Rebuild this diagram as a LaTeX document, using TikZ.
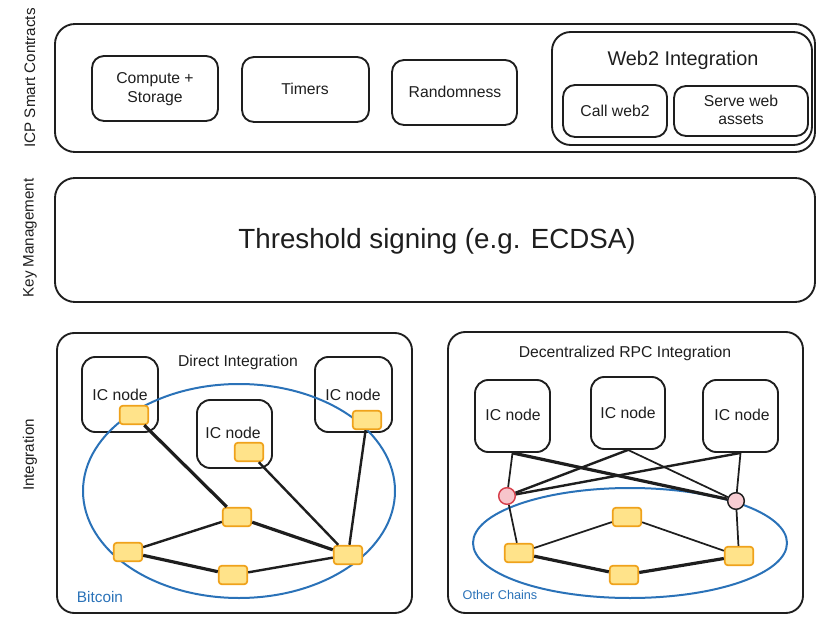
\documentclass[tikz,border=0pt]{standalone}
\usepackage{fontspec}
\setmainfont{Liberation Sans}
\usetikzlibrary{fit}
\definecolor{ink}{HTML}{1E1E1E}
\definecolor{chainblue}{HTML}{2A72B8}
\definecolor{yfill}{HTML}{FFE38A}
\definecolor{yedge}{HTML}{EFA21B}
\definecolor{pinkfill}{HTML}{F7C5CB}
\definecolor{pinkfilltwo}{HTML}{F8CDD3}
\definecolor{rededge}{HTML}{D6404C}
\begin{document}
\begin{tikzpicture}[x=0.75pt,y=-0.75pt,
  bigbox/.style={draw=ink, line width=1.4pt, rounded corners=15pt, inner sep=0pt},
  card/.style={draw=ink, line width=1.4pt, rounded corners=9pt, inner sep=0pt},
  cardtxt/.style={align=center, font=\fontsize{11.8}{13.8}\selectfont, text=ink},
  ysq/.style={draw=yedge, fill=yfill, line width=1.3pt, rounded corners=2.5pt,
    minimum width=21.5pt, minimum height=14pt, inner sep=0pt},
  pin/.style={circle, line width=1.1pt, minimum size=12.5pt, inner sep=0pt},
  lbl/.style={font=\fontsize{11.8}{14}\selectfont, text=ink},
  side/.style={rotate=90, font=\fontsize{11.4}{13}\selectfont, text=ink},
  chain/.style={draw=chainblue, line width=1.5pt},
  chainlbl/.style={text=chainblue},
  link/.style={draw=ink, line width=1.8pt},
  heavy/.style={draw=ink, line width=2.4pt},
  slim/.style={draw=ink, line width=1.3pt}
]
\useasboundingbox (0,0) rectangle (817,620);

% side labels
\node[side] (lsc) at (30,78) {ICP Smart Contracts};
\node[side] (lkm) at (30,238) {Key Management};
\node[side] (lint) at (30,455) {Integration};

% top section
\node[bigbox, fit={(55,24) (815,152)}] (top) {};
\node[card, fit={(92,56) (218,121)}] (cs) {};
\node[cardtxt] (cst) at (155,89) {Compute +\\Storage};
\node[card, fit={(242,57) (369,122)}] (tim) {};
\node[cardtxt] (timt) at (305,89) {Timers};
\node[card, fit={(392,60) (517,125)}] (rnd) {};
\node[cardtxt] (rndt) at (455,92) {Randomness};
\node[bigbox, rounded corners=14pt, fit={(552,32) (812,145)}] (w2) {};
\node[font=\fontsize{14.9}{17}\selectfont, text=ink] (w2t) at (683,60) {Web2 Integration};
\node[card, fit={(563,85) (667,137)}] (cw) {};
\node[cardtxt] (cwt) at (615,111) {Call web2};
\node[card, fit={(674,86) (808,136)}] (sw) {};
\node[cardtxt] (swt) at (741,110) {Serve web\\assets};

% key management
\node[bigbox, fit={(55,178) (815,302)}] (km) {};
\node[font=\fontsize{20.8}{24}\selectfont, text=ink] (ths) at (437,241) {Threshold signing (e.g. ECDSA)};

% bottom left: direct integration
\node[bigbox, rounded corners=13pt, fit={(57,333) (412,613)}] (di) {};
\node[lbl] (dit) at (238,362) {Direct Integration};
\node[card, rounded corners=10pt, fit={(82,357) (158,432)}] (l1) {};
\node[card, rounded corners=10pt, fit={(197,400) (272,468)}] (l2) {};
\node[card, rounded corners=10pt, fit={(315,357) (392,432)}] (l3) {};
\node[lbl] (l1t) at (120,395) {IC node};
\node[lbl] (l2t) at (233,433) {IC node};
\node[lbl] (l3t) at (353,395) {IC node};
\draw[chain] (239,491) ellipse [x radius=156, y radius=107];
\node[chainlbl, font=\fontsize{11.5}{13}\selectfont] (btc) at (100,597) {Bitcoin};

\node[ysq] (y1) at (134,415) {};
\node[ysq] (y2) at (249,452) {};
\node[ysq] (y3) at (367,420) {};
\node[ysq] (ya) at (237,517) {};
\node[ysq] (yb) at (128,552) {};
\node[ysq] (yc) at (233,575) {};
\node[ysq] (yd) at (348,555) {};

\draw[heavy] (y1) -- (ya);
\draw[link] (y2) -- (yd);
\draw[link] (y3) -- (yd);
\draw[link] (ya) -- (yb);
\draw[heavy] (ya) -- (yd);
\draw[heavy] (yb) -- (yc);
\draw[link] (yc) -- (yd);

% bottom right: decentralized RPC integration
\node[bigbox, rounded corners=13pt, fit={(448,332) (803,613)}] (dr) {};
\node[lbl] (drt) at (625,353) {Decentralized RPC Integration};
\node[card, rounded corners=10pt, fit={(475,380) (550,452)}] (r1) {};
\node[card, rounded corners=10pt, fit={(591,377) (665,449)}] (r2) {};
\node[card, rounded corners=10pt, fit={(703,380) (778,452)}] (r3) {};
\node[lbl] (r1t) at (513,415) {IC node};
\node[lbl] (r2t) at (628,413) {IC node};
\node[lbl] (r3t) at (742,415) {IC node};
\draw[chain] (630,543) ellipse [x radius=157, y radius=55];
\node[chainlbl, font=\fontsize{9.5}{11}\selectfont] (oth) at (500,595) {Other Chains};

\node[pin, draw=rededge, fill=pinkfill] (c1) at (507,496) {};
\node[pin, draw=ink, fill=pinkfilltwo] (c2) at (736,501) {};

\node[ysq] (ra) at (519,553) {};
\node[ysq] (rb) at (627,517) {};
\node[ysq] (rc) at (624,575) {};
\node[ysq] (rd) at (739,556) {};

\draw[slim] (r1.south) -- (c1);
\draw[heavy] (r1.south) -- (c2);
\draw[link] (r2.south) -- (c1);
\draw[slim] (r2.south) -- (c2);
\draw[link] (r3.south) -- (c1);
\draw[slim] (r3.south) -- (c2);
\draw[slim] (c1) -- (ra);
\draw[slim] (c2) -- (rd);
\draw[slim] (ra) -- (rb);
\draw[slim] (rb) -- (rd);
\draw[heavy] (ra) -- (rc);
\draw[heavy] (rc) -- (rd);
\end{tikzpicture}
\end{document}
